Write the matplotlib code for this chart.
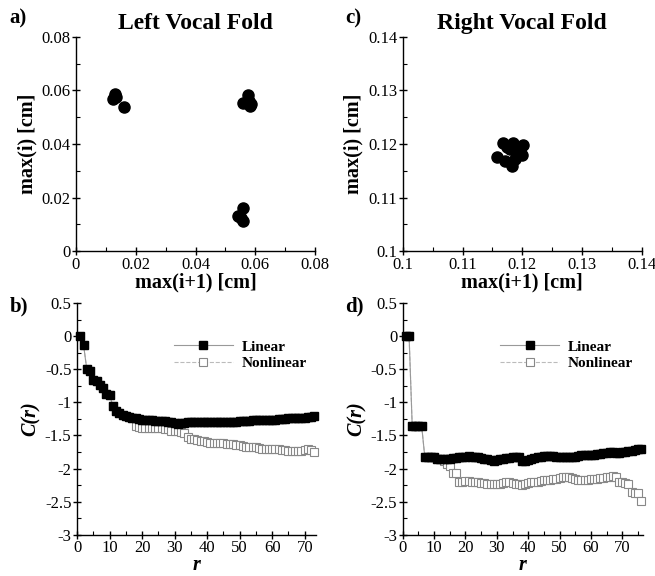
import matplotlib
import matplotlib.pyplot as plt
from matplotlib.ticker import FormatStrFormatter, MultipleLocator

matplotlib.use("agg")

# --- data ---
left_x = [0.0130, 0.0125, 0.0135, 0.0132, 0.0162,
          0.0575, 0.0560, 0.0582, 0.0585, 0.0578,
          0.0558, 0.0541, 0.0560, 0.0552]
left_y = [0.0580, 0.0568, 0.0575, 0.0585, 0.0539,
          0.0583, 0.0553, 0.0543, 0.0548, 0.0560,
          0.0161, 0.0133, 0.0114, 0.0125]

right_x = [0.1157, 0.1168, 0.1185, 0.1201, 0.1199, 0.1183, 0.1171,
           0.1190, 0.1179, 0.1196, 0.1175, 0.1188]
right_y = [0.1175, 0.1202, 0.1201, 0.1198, 0.1179, 0.1158, 0.1169,
           0.1185, 0.1191, 0.1188, 0.1195, 0.1172]

r_left = list(range(1, 74))
lin_left = [0.00, -0.13, -0.50, -0.53, -0.67, -0.68, -0.74, -0.79, -0.87, -0.89,
            -1.05, -1.13, -1.16, -1.19, -1.21, -1.22, -1.23, -1.24, -1.25, -1.27,
            -1.27, -1.27, -1.27, -1.28, -1.28, -1.28, -1.28, -1.29, -1.30, -1.31,
            -1.32, -1.31, -1.31, -1.30, -1.30, -1.30, -1.30, -1.30, -1.30, -1.29,
            -1.29, -1.30, -1.30, -1.30, -1.30, -1.29, -1.29, -1.29, -1.29, -1.28,
            -1.28, -1.28, -1.28, -1.27, -1.27, -1.27, -1.27, -1.26, -1.26, -1.26,
            -1.26, -1.25, -1.25, -1.25, -1.24, -1.24, -1.24, -1.23, -1.23, -1.23,
            -1.22, -1.22, -1.21]
nonlin_left = [0.00, -0.13, -0.50, -0.53, -0.67, -0.68, -0.74, -0.79, -0.87, -0.89,
               -1.05, -1.13, -1.16, -1.19, -1.21, -1.22, -1.23, -1.36, -1.37, -1.38,
               -1.38, -1.38, -1.38, -1.39, -1.39, -1.39, -1.40, -1.41, -1.43, -1.44,
               -1.44, -1.45, -1.47, -1.52, -1.55, -1.56, -1.57, -1.58, -1.59, -1.60,
               -1.62, -1.62, -1.62, -1.62, -1.62, -1.63, -1.63, -1.63, -1.64, -1.65,
               -1.66, -1.67, -1.68, -1.68, -1.68, -1.69, -1.70, -1.70, -1.70, -1.70,
               -1.71, -1.71, -1.72, -1.72, -1.73, -1.74, -1.74, -1.73, -1.73, -1.72,
               -1.71, -1.72, -1.75]

r_right = list(range(1, 77))
lin_right = [0.00, 0.00, -1.36, -1.36, -1.36, -1.35, -1.82, -1.82, -1.82, -1.82,
             -1.86, -1.86, -1.85, -1.85, -1.85, -1.84, -1.84, -1.83, -1.82, -1.82,
             -1.81, -1.82, -1.82, -1.83, -1.84, -1.85, -1.86, -1.87, -1.88, -1.87,
             -1.86, -1.85, -1.84, -1.84, -1.83, -1.83, -1.82, -1.88, -1.88, -1.87,
             -1.85, -1.84, -1.83, -1.82, -1.81, -1.81, -1.81, -1.81, -1.82, -1.82,
             -1.82, -1.82, -1.82, -1.83, -1.82, -1.81, -1.80, -1.80, -1.79, -1.79,
             -1.79, -1.78, -1.78, -1.77, -1.76, -1.75, -1.75, -1.76, -1.76, -1.75,
             -1.75, -1.74, -1.73, -1.72, -1.71, -1.71]
nonlin_right = [0.00, 0.00, -1.36, -1.36, -1.36, -1.35, -1.82, -1.82, -1.82, -1.82,
                -1.86, -1.86, -1.88, -1.93, -1.96, -2.07, -2.07, -2.21, -2.20, -2.19,
                -2.19, -2.20, -2.21, -2.21, -2.22, -2.22, -2.23, -2.24, -2.24, -2.23,
                -2.23, -2.22, -2.21, -2.21, -2.22, -2.23, -2.24, -2.25, -2.24, -2.22,
                -2.21, -2.20, -2.20, -2.19, -2.18, -2.18, -2.17, -2.16, -2.15, -2.14,
                -2.13, -2.13, -2.12, -2.14, -2.15, -2.17, -2.17, -2.17, -2.17, -2.16,
                -2.16, -2.15, -2.14, -2.14, -2.13, -2.12, -2.11, -2.12, -2.20, -2.21,
                -2.22, -2.23, -2.36, -2.37, -2.37, -2.49]

plt.rcParams["font.family"] = ["Liberation Serif", "DejaVu Serif"]
plt.rcParams["axes.unicode_minus"] = False

fig = plt.figure(figsize=(6.55, 5.76), dpi=100)

ax_a = fig.add_axes([0.116, 0.564, 0.365, 0.372])
ax_c = fig.add_axes([0.615, 0.564, 0.365, 0.372])
ax_b = fig.add_axes([0.1176, 0.0715, 0.365, 0.4025])
ax_d = fig.add_axes([0.615, 0.0715, 0.366, 0.4025])


def style_axis(ax, xmaj, xmin, ymaj, ymin):
    for s in ("top", "right"):
        ax.spines[s].set_visible(False)
    for s in ("left", "bottom"):
        ax.spines[s].set_linewidth(1.0)
    ax.xaxis.set_major_locator(MultipleLocator(xmaj))
    ax.xaxis.set_minor_locator(MultipleLocator(xmin))
    ax.yaxis.set_major_locator(MultipleLocator(ymaj))
    ax.yaxis.set_minor_locator(MultipleLocator(ymin))
    ax.xaxis.set_major_formatter(FormatStrFormatter("%g"))
    ax.yaxis.set_major_formatter(FormatStrFormatter("%g"))
    ax.tick_params(which="major", direction="inout", length=6, width=1,
                   labelsize=12, pad=1)
    ax.tick_params(which="minor", direction="in", length=3, width=0.8)


# scatter panels
ax_a.plot(left_x, left_y, "o", color="black", markersize=8, clip_on=False)
ax_a.set_xlim(0, 0.08)
ax_a.set_ylim(0, 0.08)
style_axis(ax_a, 0.02, 0.01, 0.02, 0.01)

ax_c.plot(right_x, right_y, "o", color="black", markersize=8, clip_on=False)
ax_c.set_xlim(0.1, 0.14)
ax_c.set_ylim(0.1, 0.14)
style_axis(ax_c, 0.01, 0.005, 0.01, 0.005)

for ax, title in ((ax_a, "Left Vocal Fold"), (ax_c, "Right Vocal Fold")):
    ax.set_title(title, fontsize=17, fontweight="bold", pad=6)
    ax.set_xlabel("max(i+1) [cm]", fontsize=14.5, fontweight="bold", labelpad=0)
    ax.set_ylabel("max(i) [cm]", fontsize=14.5, fontweight="bold", labelpad=3)

# C(r) panels
for ax, r, lin, nonlin, xmax in ((ax_b, r_left, lin_left, nonlin_left, 73.5),
                                 (ax_d, r_right, lin_right, nonlin_right, 76.5)):
    ax.plot(r, nonlin, linestyle="--", color="#bbbbbb", linewidth=0.8,
            marker="s", markersize=6, markerfacecolor="white",
            markeredgecolor="#888888", markeredgewidth=0.8,
            label="Nonlinear", clip_on=False, zorder=2)
    ax.plot(r, lin, linestyle="-", color="#999999", linewidth=0.8,
            marker="s", markersize=6, markerfacecolor="black",
            markeredgecolor="black", label="Linear", clip_on=False, zorder=3)
    ax.set_xlim(0, xmax)
    ax.set_ylim(-3, 0.5)
    style_axis(ax, 10, 5, 0.5, 0.25)
    ax.set_xlabel("r", fontsize=14.5, fontweight="bold", fontstyle="italic",
                  labelpad=-1)
    ax.set_ylabel("C(r)", fontsize=14.5, fontweight="bold", fontstyle="italic",
                  labelpad=3)
    handles, labels = ax.get_legend_handles_labels()
    ax.legend(handles[::-1], labels[::-1], loc="upper left",
              bbox_to_anchor=(0.35, 0.9), frameon=False, handlelength=3.8,
              handletextpad=0.6, labelspacing=0.2, markerscale=0.85,
              prop={"weight": "bold", "size": 11})

# panel letters
for label, x, y in (("a)", 0.015, 0.968), ("c)", 0.527, 0.968),
                    ("b)", 0.015, 0.468), ("d)", 0.527, 0.468)):
    fig.text(x, y, label, fontsize=15, fontweight="bold", va="center")

plt.savefig("out.png", dpi=100)
plt.close()
